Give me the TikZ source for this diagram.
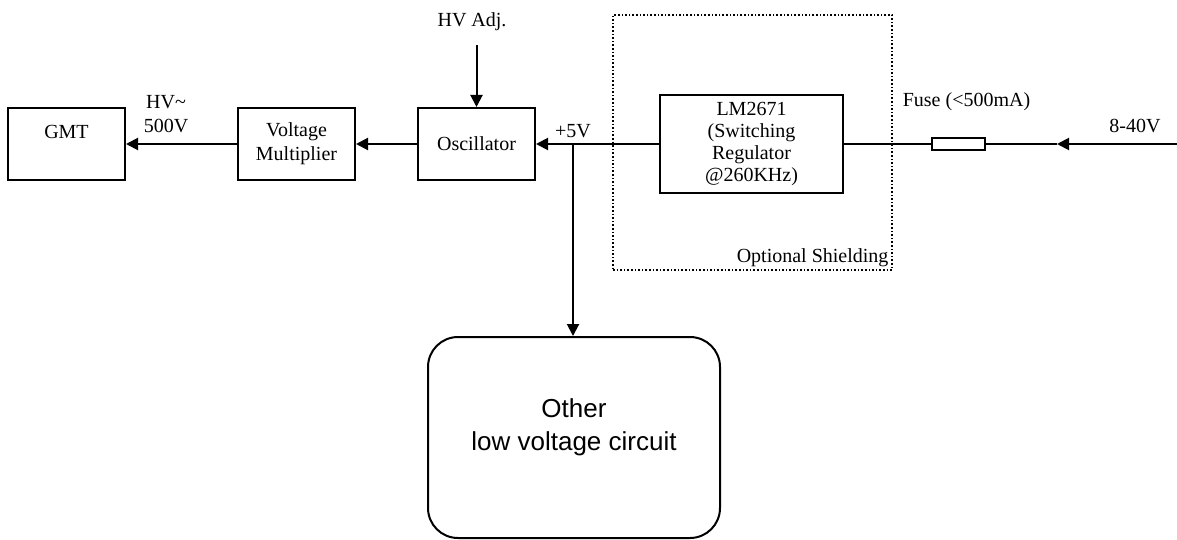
\documentclass[tikz,border=0pt]{standalone}
\usepackage{fontspec}
\setmainfont{Liberation Serif}
\newfontfamily\arialfont{Liberation Sans}
\usetikzlibrary{arrows.meta, positioning}

\begin{document}
\begin{tikzpicture}[
  x=0.5pt, y=-0.5pt,
  node distance=5mm,
  blk/.style={draw, line width=1pt, align=center, font=\fontsize{10}{12}\selectfont,
              inner sep=2pt, minimum width=58.5pt, minimum height=36pt},
  lbl/.style={font=\fontsize{10}{12}\selectfont, align=center, inner sep=1pt},
  arr/.style={-{Triangle[length=6pt, width=6pt]}, line width=1pt},
  wire/.style={line width=1pt}]
  \useasboundingbox (0,0) rectangle (1177,540);
  % main chain
  \node[blk] (gmt) at (66.5,144) {GMT\\\mbox{}};
  \node[blk] (mult) at (296.5,144) {Voltage\\Multiplier};
  \node[blk] (osc) at (476.5,144) {Oscillator};
  \node[draw, densely dotted, line width=0.8pt, minimum width=139.5pt,
        minimum height=127.5pt] (shield) at (752.5,142.5) {};
  \node[lbl, anchor=south east, inner sep=2pt] (shieldlbl) at (shield.south east) {Optional Shielding};
  \node[blk, font=\fontsize{10}{11}\selectfont, minimum width=91.5pt, minimum height=48.5pt]
        (reg) at (751.5,144) {LM2671\\(Switching\\Regulator\\@260KHz)};
  \node[draw, line width=0.8pt, minimum width=26.5pt, minimum height=6pt, inner sep=0pt]
        (fuse) at (958.5,144) {};
  \node[draw, line width=1pt, rounded corners=15pt, minimum width=146pt, minimum height=100.5pt,
        align=center, font=\arialfont\fontsize{13}{16.5}\selectfont]
        (other) at (574,437.5) {Other\\low voltage circuit\\[-4pt]\mbox{}};
  % free ends
  \coordinate (vin) at (1177,144);
  \coordinate (fj) at (1057,144);
  \coordinate (jn) at (573,144);
  \coordinate (adj) at (476.5,45);
  % labels
  \node[lbl] (hvadj) at (472,22) {HV Adj.};
  \node[lbl] (hv) at (166,114) {HV\textasciitilde\\500V};
  \node[lbl, above=2pt of jn] (v5) {+5V};
  \node[lbl, above=12pt of fuse, xshift=4pt] (fuselbl) {Fuse (<500mA)};
  \node[lbl] (vinlbl) at (1135,126) {8-40V};
  % connectors
  \draw[arr] (adj) -- (osc.north);
  \draw[arr] (osc.west) -- (mult.east);
  \draw[arr] (mult.west) -- (gmt.east);
  \draw[arr] (reg.west) -- (osc.east);
  \draw[arr] (jn) -- (jn |- other.north);
  \draw[wire] (reg.east) -- (fuse.west);
  \draw[wire] (fj) -- (fuse.east);
  \draw[arr] (vin) -- (fj);
\end{tikzpicture}
\end{document}
